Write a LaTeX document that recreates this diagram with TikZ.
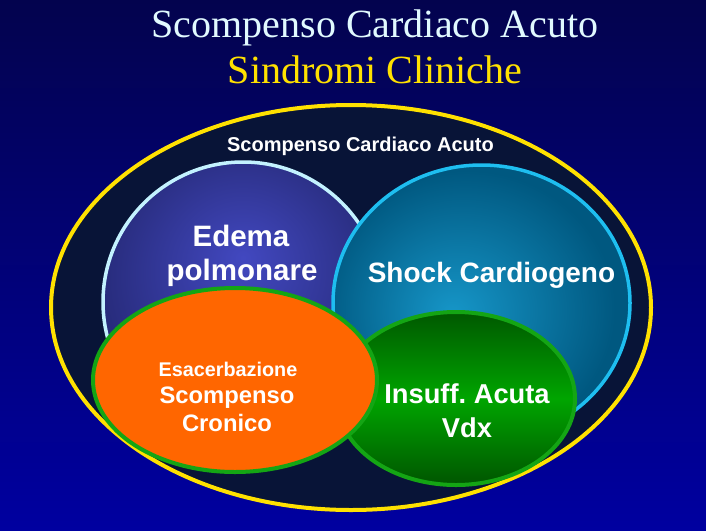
\documentclass[tikz,border=0pt]{standalone}
\usepackage{fontspec}
\setmainfont{Liberation Serif}
\setsansfont{Liberation Sans}
\usetikzlibrary{shapes.geometric}
\definecolor{bgtop}{RGB}{3,3,78}
\definecolor{bgbot}{RGB}{0,0,160}
\definecolor{navy}{RGB}{8,20,55}
\definecolor{ygold}{RGB}{255,225,0}
\definecolor{titlecyan}{RGB}{225,250,255}
\definecolor{edgeice}{RGB}{195,242,255}
\definecolor{edemain}{RGB}{66,72,192}
\definecolor{edemaout}{RGB}{40,44,125}
\definecolor{shockedge}{RGB}{30,190,240}
\definecolor{shockin}{RGB}{22,150,200}
\definecolor{shockout}{RGB}{0,88,128}
\definecolor{grnedge}{RGB}{20,165,20}
\definecolor{grntop}{RGB}{0,88,0}
\definecolor{grnmid}{RGB}{0,165,0}
\definecolor{grnbot}{RGB}{0,85,0}
\definecolor{orangef}{RGB}{255,102,0}
\pgfdeclareradialshading{edemashade}{\pgfpoint{0bp}{8bp}}{color(0bp)=(edemain); color(25bp)=(edemaout); color(50bp)=(edemaout)}
\pgfdeclareradialshading{shockshade}{\pgfpoint{-5bp}{-2bp}}{color(0bp)=(shockin); color(25bp)=(shockout); color(50bp)=(shockout)}
\begin{document}
\begin{tikzpicture}[x=1pt,y=-1pt,
  blob/.style={ellipse, inner sep=0pt, outer sep=0pt},
  lbl/.style={text=white, anchor=base, inner sep=0pt},
  ttl/.style={anchor=base, inner sep=0pt, font=\fontsize{40}{44}\selectfont},
]
\path[use as bounding box] (0,0) rectangle (706,530);
\fill[top color=bgtop, bottom color=bgbot] (0,0) rectangle (706,530);

\node[ttl, text=titlecyan] (t1) at (375,37) {Scompenso Cardiaco Acuto};
\node[ttl, text=ygold] (t2) at (375,83) {Sindromi Cliniche};

\node[blob, draw=ygold, line width=4pt, fill=navy, minimum width=600pt, minimum height=405pt] (outer) at (351,307.5) {};
\node[blob, draw=edgeice, line width=3.5pt, shading=edemashade, minimum width=280pt, minimum height=280pt] (edema) at (243,302) {};
\node[blob, draw=shockedge, line width=3.5pt, shading=shockshade, minimum width=297pt, minimum height=276pt] (shock) at (481.5,303) {};
\node[blob, draw=grnedge, line width=4pt, top color=grntop, bottom color=grnbot, middle color=grnmid, minimum width=238pt, minimum height=173pt] (vdx) at (456,398.5) {};
\node[blob, draw=grnedge, line width=4pt, fill=orangef, minimum width=284pt, minimum height=184pt] (cron) at (235,380) {};

\node[lbl, font=\sffamily\bfseries\fontsize{20}{24}\selectfont] (l0) at (360.5,151) {Scompenso Cardiaco Acuto};
\node[lbl, font=\sffamily\bfseries\fontsize{29.5}{34}\selectfont] (l1) at (241,246) {Edema};
\node[lbl, font=\sffamily\bfseries\fontsize{29.5}{34}\selectfont] (l2) at (242,280) {polmonare};
\node[lbl, font=\sffamily\bfseries\fontsize{28}{32}\selectfont] (l3) at (491.5,282) {Shock Cardiogeno};
\node[lbl, font=\sffamily\bfseries\fontsize{27.3}{32}\selectfont] (l4) at (467,403) {Insuff.\ Acuta};
\node[lbl, font=\sffamily\bfseries\fontsize{27.3}{32}\selectfont] (l5) at (467,437) {Vdx};
\node[lbl, font=\sffamily\bfseries\fontsize{19.8}{24}\selectfont] (l6) at (228,376) {Esacerbazione};
\node[lbl, font=\sffamily\bfseries\fontsize{23.8}{28}\selectfont] (l7) at (227,403) {Scompenso};
\node[lbl, font=\sffamily\bfseries\fontsize{23.8}{28}\selectfont] (l8) at (227,431) {Cronico};
\end{tikzpicture}
\end{document}
